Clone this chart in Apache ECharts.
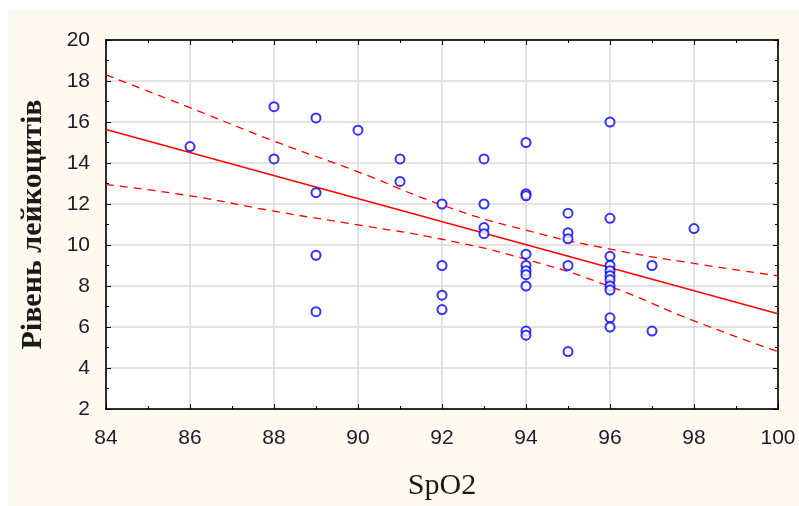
<!DOCTYPE html>
<html>
<head>
<meta charset="utf-8">
<script src="https://cdn.jsdelivr.net/npm/echarts@6/dist/echarts.min.js"></script>
<style>
    html, body { margin: 0; padding: 0; background: #ffffff; }
    #chart { width: 799px; height: 506px; }
</style>
</head>
<body>
<div id="chart"></div>
<script type="text/javascript">

    // значення
    var spo2 = [86, 88, 88, 89, 89, 89, 89, 90, 91, 91,
                92, 92, 92, 92, 93, 93, 93, 93,
                94, 94, 94, 94, 94, 94, 94, 94, 94, 94,
                95, 95, 95, 95, 95,
                96, 96, 96, 96, 96, 96, 96, 96, 96, 96, 96,
                97, 97, 98];
    var leuko = [14.8, 16.75, 14.2, 16.2, 12.55, 9.5, 6.75, 15.6, 14.2, 13.1,
                 12.0, 9.0, 7.55, 6.85, 14.2, 12.0, 10.85, 10.55,
                 15.0, 12.5, 12.4, 9.55, 9.0, 8.75, 8.55, 8.0, 5.8, 5.6,
                 11.55, 10.6, 10.3, 9.0, 4.8,
                 16.0, 11.3, 9.45, 9.0, 8.75, 8.5, 8.3, 8.0, 7.8, 6.45, 6.0,
                 9.0, 5.8, 10.8];

    var fitX = [84, 100];
    var fitY = [15.63, 6.65];

    var bandX = [84, 86, 88, 90, 92, 94, 96, 98, 100];
    var bandUpper = [18.3, 16.7, 15.07, 13.57, 11.95, 10.72, 9.8, 9.1, 8.5];
    var bandLower = [12.95, 12.4, 11.65, 10.98, 10.28, 9.3, 7.98, 6.3, 4.8];

    var xTicks = {min: 84, max: 100, step: 2};
    var yTicks = {min: 2, max: 20, step: 2};

    function pairs(xs, ys) {
        var arr = [];
        for (var i = 0; i < xs.length; i++) {
            arr.push([xs[i], ys[i]]);
        }
        return arr;
    }

    var myChart = echarts.init(document.getElementById("chart"), null, {renderer: "canvas"});

    var axisLine = {show: true, onZero: false, lineStyle: {color: "#000", width: 1.5}};
    var axisTick = {show: true, inside: true, length: 5, lineStyle: {color: "#000"}};
    var minorTick = {show: true, splitNumber: 2, length: 3, lineStyle: {color: "#000"}};
    var splitLine = {show: true, lineStyle: {color: "#dadada", width: 1.5}};

    myChart.setOption({
        animation: false,
        backgroundColor: "#ffffff",
        graphic: [{
            type: "rect",
            z: -10,
            silent: true,
            shape: {x: 8, y: 9, width: 791, height: 497},
            style: {fill: "#fefaf0"}
        }],
        grid: {
            left: 106, top: 40, right: 21, bottom: 93,
            show: true, backgroundColor: "#ffffff",
            borderColor: "#000", borderWidth: 1.5
        },
        xAxis: [{
            type: "value",
            min: xTicks.min, max: xTicks.max, interval: xTicks.step,
            name: "SpO2",
            nameLocation: "middle",
            nameGap: 62,
            nameTextStyle: {fontFamily: "Liberation Serif", fontSize: 30, color: "#1a1a1a"},
            axisLine: axisLine,
            axisTick: axisTick,
            minorTick: minorTick,
            splitLine: splitLine,
            axisLabel: {color: "#1a1a2a", fontFamily: "Liberation Sans", fontSize: 21, margin: 19}
        }, {
            type: "value", position: "top",
            min: xTicks.min, max: xTicks.max, interval: xTicks.step,
            axisLine: axisLine,
            axisTick: axisTick,
            minorTick: minorTick,
            splitLine: {show: false},
            axisLabel: {show: false}
        }],
        yAxis: [{
            type: "value",
            min: yTicks.min, max: yTicks.max, interval: yTicks.step,
            name: "Рівень лейкоцитів",
            nameLocation: "middle",
            nameGap: 58,
            nameTextStyle: {fontFamily: "Liberation Serif", fontSize: 30, fontWeight: "bold", color: "#1a1a1a"},
            axisLine: axisLine,
            axisTick: axisTick,
            minorTick: minorTick,
            splitLine: splitLine,
            axisLabel: {color: "#1a1a2a", fontFamily: "Liberation Sans", fontSize: 21, margin: 16}
        }, {
            type: "value", position: "right",
            min: yTicks.min, max: yTicks.max, interval: yTicks.step,
            axisLine: axisLine,
            axisTick: axisTick,
            minorTick: minorTick,
            splitLine: {show: false},
            axisLabel: {show: false}
        }],
        series: [{
            type: "line",
            data: pairs(bandX, bandUpper),
            smooth: true,
            symbol: "none",
            lineStyle: {color: "#ff0000", width: 1.3, type: [8, 6]},
            z: 3
        }, {
            type: "line",
            data: pairs(bandX, bandLower),
            smooth: true,
            symbol: "none",
            lineStyle: {color: "#ff0000", width: 1.3, type: [8, 6]},
            z: 3
        }, {
            type: "line",
            data: pairs(fitX, fitY),
            symbol: "none",
            lineStyle: {color: "#ff0000", width: 1.5},
            z: 3
        }, {
            type: "scatter",
            data: pairs(spo2, leuko),
            symbol: "emptyCircle",
            symbolSize: 9,
            itemStyle: {color: "#0000ff", borderColor: "#0000ff", borderWidth: 1.4},
            z: 4
        }]
    });
</script>
</body>
</html>
